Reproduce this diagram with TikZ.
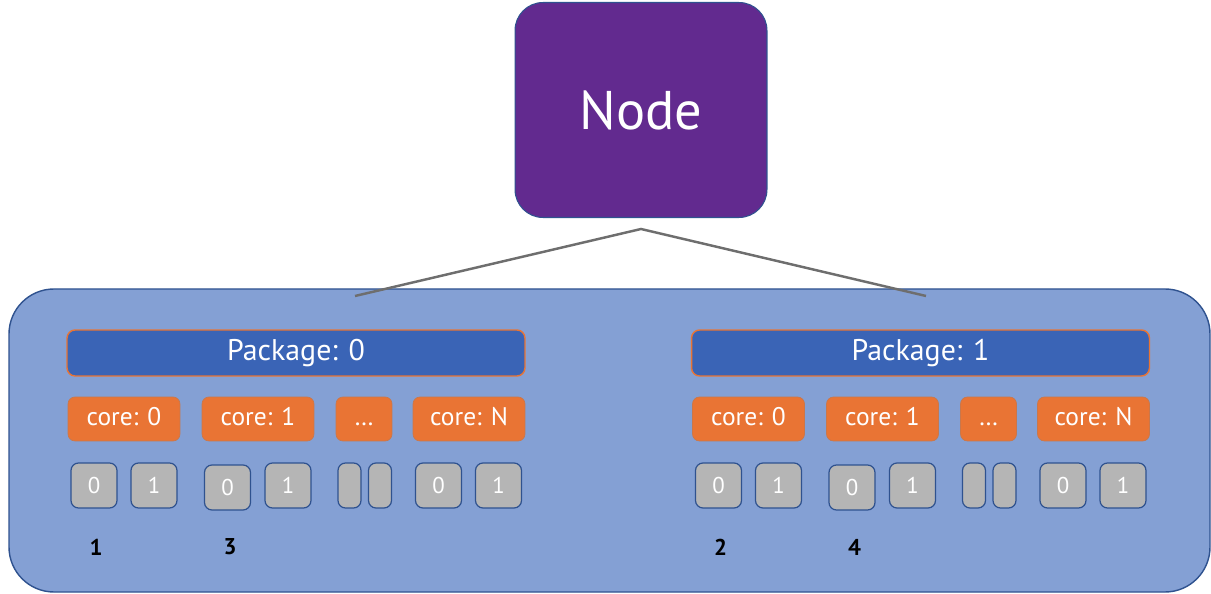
\documentclass[tikz,border=0pt]{standalone}
\usepackage{fontspec}
\setmainfont{PT Sans}

\definecolor{hostpurple}{HTML}{622A8F}
\definecolor{edgeblue}{HTML}{2F528F}
\definecolor{boardblue}{HTML}{84A0D4}
\definecolor{pkgblue}{HTML}{3A64B6}
\definecolor{coreorange}{HTML}{E97434}
\definecolor{thrgray}{HTML}{B5B5B5}
\definecolor{linkgray}{HTML}{6E6E6E}

\begin{document}
\begin{tikzpicture}[x=0.02cm, y=-0.02cm,
  host/.style={draw=edgeblue, fill=hostpurple, rounded corners=0.56cm, line width=0.6pt,
    minimum width=5.04cm, minimum height=4.3cm, text=white, font=\fontsize{31}{36}\selectfont},
  board/.style={draw=edgeblue, fill=boardblue, rounded corners=0.9cm, line width=0.8pt},
  pkgbox/.style={draw=coreorange, fill=pkgblue, rounded corners=0.16cm, line width=0.8pt,
    minimum width=9.16cm, minimum height=0.92cm, text=white, font=\fontsize{17}{20}\selectfont},
  corebox/.style={draw=coreorange!70!gray, fill=coreorange, rounded corners=0.14cm, line width=0.4pt,
    minimum height=0.88cm, text height=0.72em, text depth=0pt, text=white,
    font=\fontsize{14.5}{17}\selectfont},
  thrbox/.style={draw=edgeblue, fill=thrgray, rounded corners=0.15cm, line width=0.7pt,
    minimum height=0.9cm, text=white, font=\fontsize{13}{15}\selectfont},
  link/.style={draw=linkgray, line width=1.4pt},
  cpulabel/.style={font=\fontsize{13}{15}\selectfont\bfseries}]
  \useasboundingbox (0,0) rectangle (1211,594);

  % Machine on top
  \node[host] (host) at (641,110) {Node};

  % Board holding both packages
  \draw[board] (9,289) rectangle (1210,592);

  % Lines from the machine down to the board
  \coordinate (apex) at (641,229);
  \coordinate (foot0) at (355,296);
  \coordinate (foot1) at (926,296);
  \draw[link] (foot0) -- (apex) -- (foot1);

  % One package, with its cores and hardware threads
  \foreach \p/\dx/\first/\second in {0/0/1/3, 1/624.5/2/4}
  {
    \begin{scope}[shift={(\dx,0)}]
      \node[pkgbox] (pkg\p) at (296,353) {Package: \p};

      \node[corebox, minimum width=2.24cm] (core\p-0) at (124,419) {core: 0};
      \node[corebox, minimum width=2.24cm] (core\p-1) at (258,419) {core: 1};
      \node[corebox, minimum width=1.12cm] (core\p-d) at (364,419) {\dots};
      \node[corebox, minimum width=2.24cm] (core\p-N) at (469,419) {core: N};

      \foreach \x/\t/\name in {94/0/a, 154/1/b, 288/1/d, 438.5/0/g, 498.5/1/h}
        \node[thrbox, minimum width=0.92cm] (thr\p-\name) at (\x,485.5) {\t};
      \node[thrbox, minimum width=0.92cm] (thr\p-c) at (227.5,487.5) {0};
      \node[thrbox, minimum width=0.46cm] (thr\p-e) at (349.5,485.5) {};
      \node[thrbox, minimum width=0.46cm] (thr\p-f) at (380,485.5) {};

      \node[cpulabel] (cpu\p-a) at (96,547) {\first};
      \node[cpulabel] (cpu\p-b) at (230,547) {\second};
    \end{scope}
  }
\end{tikzpicture}
\end{document}
